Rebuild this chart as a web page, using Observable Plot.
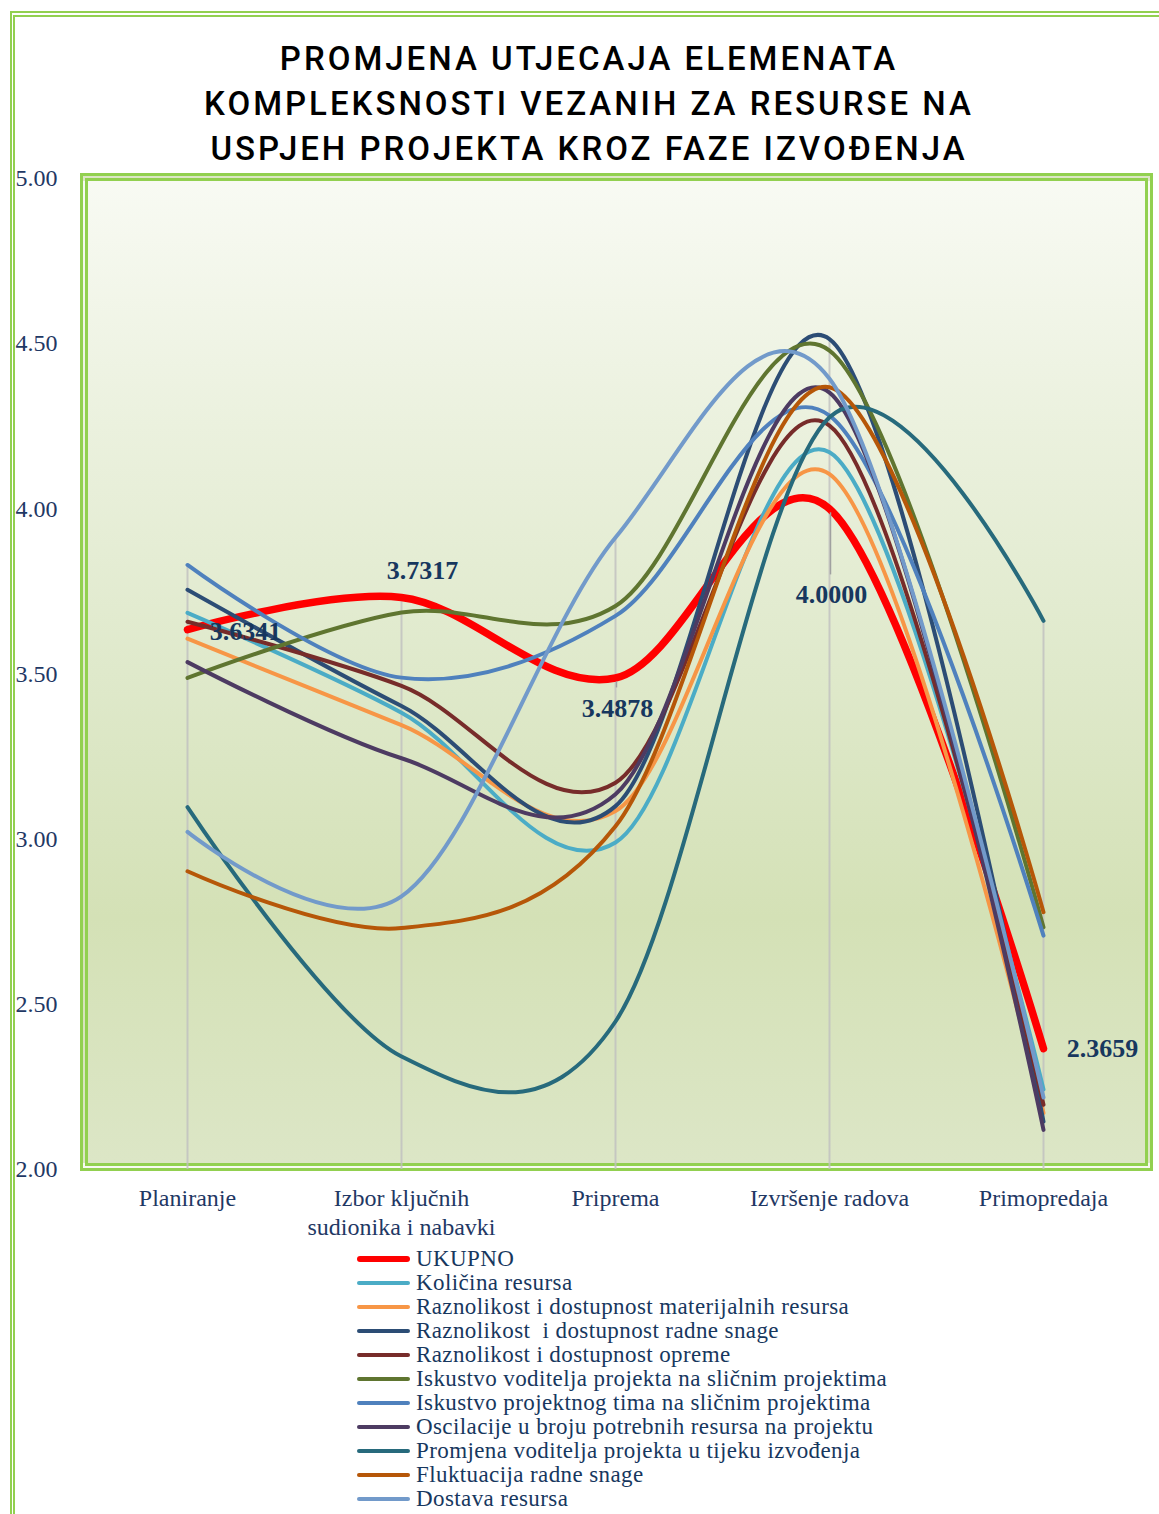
<!DOCTYPE html>
<html><head><meta charset="utf-8">
<script src="https://cdn.jsdelivr.net/npm/d3@7"></script>
<script src="https://cdn.jsdelivr.net/npm/@observablehq/plot@0.6"></script>
<style>
body{margin:0;background:#fff;}
#wrap{position:relative;width:1159px;height:1514px;overflow:hidden;background:#fff;}
#frame{position:absolute;left:10px;top:11px;width:1200px;height:1600px;border-left:5px double #92D050;border-top:6px double #92D050;}
#plotbg{position:absolute;left:80px;top:173px;width:1073px;height:998px;box-sizing:border-box;border:8px double #92D050;
 background:linear-gradient(to bottom,#F8FAF3 0%,#EBF1DE 25%,#DFE9CB 50%,#D4E1B6 75%,#DCE6C6 100%);}
#title{position:absolute;left:0;top:36px;width:1178px;text-align:center;font-family:Roboto,"DejaVu Sans",sans-serif;font-weight:500;font-size:33px;letter-spacing:3px;line-height:45px;color:#000;}
#chart{position:absolute;left:0;top:0;}
#legend{position:absolute;left:357px;top:1247px;font-family:"Liberation Serif",serif;font-size:23px;letter-spacing:0.4px;color:#17375E;}
.row{height:24px;line-height:24px;display:flex;align-items:center;white-space:pre;}
.sw{display:inline-block;width:53px;border-radius:3px;margin-right:6px;}
</style></head>
<body>
<div id="wrap">
 <div id="frame"></div>
 <div id="plotbg"></div>
 <div id="title">PROMJENA UTJECAJA ELEMENATA<br>KOMPLEKSNOSTI VEZANIH ZA RESURSE NA<br>USPJEH PROJEKTA KROZ FAZE IZVOĐENJA</div>
 <div id="chart"></div>
 <div id="legend"></div>
</div>
<script>
const phases = ["Planiranje","Izbor ključnih sudionika i nabavki","Priprema","Izvršenje radova","Primopredaja"];
const phaseLabels = ["Planiranje","Izbor ključnih\nsudionika i nabavki","Priprema","Izvršenje radova","Primopredaja"];
const yTicks = [2.0,2.5,3.0,3.5,4.0,4.5,5.0];

const seriesNames = [
 "UKUPNO",
 "Količina resursa",
 "Raznolikost i dostupnost materijalnih resursa",
 "Raznolikost  i dostupnost radne snage",
 "Raznolikost i dostupnost opreme",
 "Iskustvo voditelja projekta na sličnim projektima",
 "Iskustvo projektnog tima na sličnim projektima",
 "Oscilacije u broju potrebnih resursa na projektu",
 "Promjena voditelja projekta u tijeku izvođenja",
 "Fluktuacija radne snage",
 "Dostava resursa"
];
const seriesColors = ["#FF0000","#4BACC6","#F79646","#2C4D75","#772C2A","#5F7530","#4F81BD","#4D3B62","#276A7C","#B65708","#729ACA"];

const ukupno        = [3.6341, 3.7317, 3.4878, 4.0000, 2.3659];
const kolicina      = [3.685, 3.383, 2.99, 4.171, 2.242];
const materijalni   = [3.607, 3.345, 3.085, 4.105, 2.171];
const radnaSnaga    = [3.755, 3.403, 3.10, 4.514, 2.145];
const oprema        = [3.658, 3.464, 3.171, 4.252, 2.196];
const iskVoditelja  = [3.488, 3.686, 3.706, 4.479, 2.733];
const iskTima       = [3.830, 3.489, 3.676, 4.282, 2.708];
const oscilacije    = [3.536, 3.245, 3.136, 4.352, 2.120];
const promjenaVod   = [3.097, 2.342, 2.448, 4.277, 3.661];
const fluktuacija   = [2.903, 2.731, 3.039, 4.368, 2.779];
const dostava       = [3.022, 2.827, 3.913, 4.394, 2.218];

const seriesValues = [ukupno,kolicina,materijalni,radnaSnaga,oprema,iskVoditelja,iskTima,oscilacije,promjenaVod,fluktuacija,dostava];

const rows = [];
seriesNames.forEach((s,si)=>phases.forEach((p,pi)=>rows.push({series:s, phase:p, value:seriesValues[si][pi]})));
const totalRows = rows.filter(d=>d.series==="UKUPNO");
const otherRows = rows.filter(d=>d.series!=="UKUPNO");
const maxRows = phases.map((p,pi)=>({phase:p, value:d3.max(seriesValues,v=>v[pi])}));

const labelFont = {fontFamily:"Liberation Serif", fontWeight:"bold", fontSize:26, fill:"#17375E"};
const fmt4 = d3.format(".4f");

const chart = Plot.plot({
  width:1159, height:1240,
  marginTop:178, marginBottom:71, marginLeft:80, marginRight:9,
  style:{background:"transparent", fontFamily:"Liberation Serif", color:"#1F3864", overflow:"visible"},
  x:{type:"point", domain:phases, padding:0.5},
  y:{domain:[2,5]},
  color:{domain:seriesNames, range:seriesColors},
  marks:[
    Plot.ruleX(maxRows,{x:"phase", y1:"value", y2:2, stroke:"#BFBFBF", strokeWidth:2, strokeOpacity:0.8}),
    Plot.axisY({ticks:yTicks, tickFormat:d3.format(".2f"), tickSize:0, tickPadding:0, dx:-65, textAnchor:"start", fontSize:24, label:null}),
    Plot.axisX({tickSize:0, tickPadding:17, tickFormat:d=>phaseLabels[phases.indexOf(d)], fontSize:24, lineHeight:1.17, label:null}),
    Plot.line(totalRows,{x:"phase", y:"value", z:"series", stroke:"series", strokeWidth:7.5, curve:"cardinal", tension:0, strokeLinecap:"round", strokeLinejoin:"round"}),
    Plot.line(otherRows,{x:"phase", y:"value", z:"series", stroke:"series", strokeWidth:4, curve:"cardinal", tension:0, strokeLinecap:"round", strokeLinejoin:"round"}),
    Plot.ruleX([totalRows[3]],{x:"phase", y1:d=>d.value-0.012, y2:d=>d.value-0.2, dx:1, stroke:"#A0A0A0", strokeWidth:1.5}),
    Plot.ruleX([totalRows[2]],{x:"phase", y1:d=>d.value-0.012, y2:d=>d.value-0.03, dx:1, stroke:"#A0A0A0", strokeWidth:1.5}),
    Plot.text([totalRows[0]],{x:"phase", y:"value", text:d=>fmt4(d.value), dx:58, dy:2, ...labelFont}),
    Plot.text([totalRows[1]],{x:"phase", y:"value", text:d=>fmt4(d.value), dx:21, dy:-27, ...labelFont}),
    Plot.text([totalRows[2]],{x:"phase", y:"value", text:d=>fmt4(d.value), dx:2, dy:31, ...labelFont}),
    Plot.text([totalRows[3]],{x:"phase", y:"value", text:d=>fmt4(d.value), dx:2, dy:86, ...labelFont}),
    Plot.text([totalRows[4]],{x:"phase", y:"value", text:d=>fmt4(d.value), dx:59, dy:0, ...labelFont})
  ]
});
document.getElementById("chart").appendChild(chart);

const legend = document.getElementById("legend");
seriesNames.forEach((s,i)=>{
  const row = document.createElement("div");
  row.className = "row";
  const sw = document.createElement("span");
  sw.className = "sw";
  sw.style.background = seriesColors[i];
  sw.style.height = (i===0 ? 6 : 4) + "px";
  row.appendChild(sw);
  row.appendChild(document.createTextNode(s));
  legend.appendChild(row);
});
</script>
</body></html>
